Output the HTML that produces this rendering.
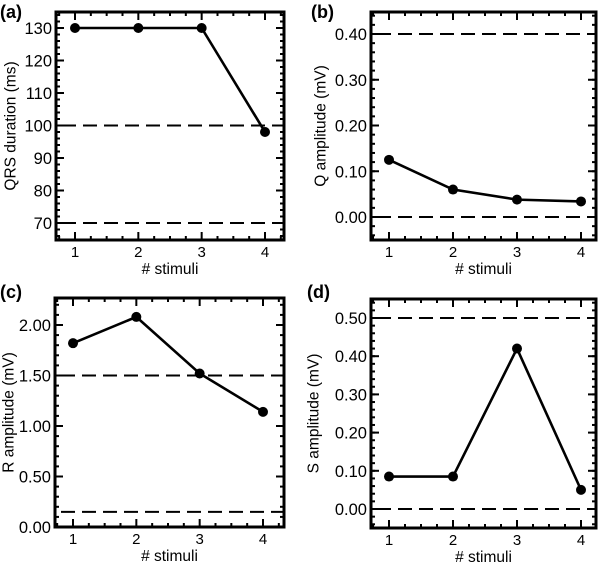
<!DOCTYPE html>
<html><head><meta charset="utf-8"><style>
body{margin:0;background:#fff}
svg{display:block;font-family:"Liberation Sans",Arial,sans-serif}
</style></head><body>
<svg id="fig" width="604" height="564" viewBox="0 0 604 564"></svg>
<script>
const stimuli=[1,2,3,4];
const qrsValues=[130,130,130,98];
const qValues=[0.125,0.06,0.038,0.034];
const rValues=[1.82,2.08,1.52,1.14];
const sValues=[0.085,0.085,0.42,0.05];
const qrsTicks=[70,80,90,100,110,120,130];
const qTicks=[0,0.1,0.2,0.3,0.4];
const rTicks=[0,0.5,1.0,1.5,2.0];
const sTicks=[0,0.1,0.2,0.3,0.4,0.5];
const qrsRefs=[100,70];
const qRefs=[0.4,0];
const rRefs=[1.5,0.15];
const sRefs=[0.5,0];
const NS='http://www.w3.org/2000/svg';
const svg=document.getElementById('fig');
function mk(tag,attrs,parent){const e=document.createElementNS(NS,tag);for(const k in attrs)e.setAttribute(k,attrs[k]);(parent||svg).appendChild(e);return e;}
const panels=[
 {id:'a',label:'(a)',yl:'QRS duration (ms)',vals:qrsValues,ticks:qrsTicks,refs:qrsRefs,dec:0,minorStep:2,
  box:[56,12,284,240],yA:[130,28],yB:[70,223],xA:75,xB:265,lx:0,ly:18,yt:11},
 {id:'b',label:'(b)',yl:'Q amplitude (mV)',vals:qValues,ticks:qTicks,refs:qRefs,dec:2,minorStep:0.02,
  box:[371,12,596,240],yA:[0.4,34],yB:[0,217],xA:389,xB:581,lx:311,ly:18,yt:321},
 {id:'c',label:'(c)',yl:'R amplitude (mV)',vals:rValues,ticks:rTicks,refs:rRefs,dec:2,minorStep:0.1,
  box:[55,298,284,527],yA:[2.0,325],yB:[0,527],xA:73,xB:263,lx:0,ly:298,yt:9},
 {id:'d',label:'(d)',yl:'S amplitude (mV)',vals:sValues,ticks:sTicks,refs:sRefs,dec:2,minorStep:0.02,
  box:[371,299,596,528],yA:[0.5,318],yB:[0,509],xA:389,xB:581,lx:307,ly:298,yt:314}
];
panels.forEach(p=>{
 const [L,T,R,B]=p.box;
 const g=mk('g',{});
 
 
 const ys=v=>p.yB[1]+(v-p.yB[0])*(p.yA[1]-p.yB[1])/(p.yA[0]-p.yB[0]);
 const xs=v=>p.xA+(v-1)*(p.xB-p.xA)/3;
 const lab=mk('text',{x:p.lx,y:p.ly,'font-size':18,'font-weight':'bold'},g);lab.textContent=p.label;
 
 
 const lo=p.yB[0]+(B-p.yB[1])*(p.yA[0]-p.yB[0])/(p.yA[1]-p.yB[1]);
 const hi=p.yB[0]+(T-p.yB[1])*(p.yA[0]-p.yB[0])/(p.yA[1]-p.yB[1]);
 for(let k=Math.ceil(lo/p.minorStep-1e-6);k*p.minorStep<=hi+1e-9;k++){
  const y=ys(k*p.minorStep);
  mk('line',{x1:L,x2:L+4,y1:y,y2:y,stroke:'#000','stroke-width':2},g);
  mk('line',{x1:R,x2:R-4,y1:y,y2:y,stroke:'#000','stroke-width':2},g);
 }
 p.ticks.forEach(v=>{
  const y=ys(v);
  mk('line',{x1:L,x2:L+8,y1:y,y2:y,stroke:'#000','stroke-width':2},g);
  mk('line',{x1:R,x2:R-8,y1:y,y2:y,stroke:'#000','stroke-width':2},g);
  const t=mk('text',{x:L-4,y:y+6,'font-size':16.5,'text-anchor':'end'},g);
  t.textContent=v.toFixed(p.dec);
  
  
 });
 for(let s=0.5;s<=4.5;s+=0.25){
  const x=xs(s);if(x<L+1||x>R-1)continue;
  const major=Number.isInteger(s);
  const len=major?8:4;
  mk('line',{x1:x,x2:x,y1:B,y2:B-len,stroke:'#000','stroke-width':2},g);
  mk('line',{x1:x,x2:x,y1:T,y2:T+len,stroke:'#000','stroke-width':2},g);
 }
 stimuli.forEach(s=>{
  const t=mk('text',{x:xs(s),y:B+17,'font-size':15,'text-anchor':'middle'},g);t.textContent=s;
  
  
 });
 const xl=mk('text',{x:(L+R)/2,y:B+34,'font-size':15.5,'text-anchor':'middle'},g);xl.textContent='# stimuli';
 
 
 const yl=mk('text',{x:0,y:0,'font-size':15.5,'text-anchor':'middle','dominant-baseline':'central',transform:`translate(${p.yt},${(T+B)/2}) rotate(-90)`},g);yl.textContent=p.yl;
 
 
 p.refs.forEach(v=>{
  const l=mk('line',{x1:L,x2:R,y1:ys(v),y2:ys(v),stroke:'#000','stroke-width':2,'stroke-dasharray':'14 7','stroke-dashoffset':-6},g);
  
  
 });
 const pts=stimuli.map((s,i)=>xs(s)+','+ys(p.vals[i])).join(' ');
 const pl=mk('polyline',{points:pts,fill:'none',stroke:'#000','stroke-width':2.6},g);
 
 
 stimuli.forEach((s,i)=>{
  const c=mk('circle',{cx:xs(s),cy:ys(p.vals[i]),r:5,fill:'#000'},g);
  
  
 });
 const bx=mk('rect',{x:L,y:T,width:R-L,height:B-T,fill:'none',stroke:'#000','stroke-width':3},g);
 
 
});
</script>
</body></html>
